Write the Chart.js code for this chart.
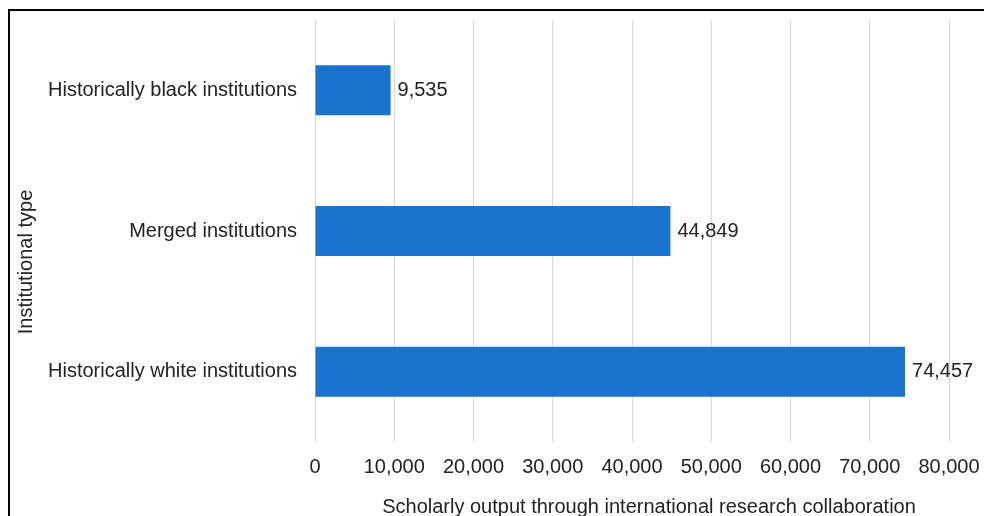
<!DOCTYPE html>
<html>
<head>
<meta charset="utf-8">
<script src="https://cdn.jsdelivr.net/npm/chart.js@4.4.1/dist/chart.umd.min.js"></script>
<style>
  html, body { margin: 0; padding: 0; background: #fff; overflow: hidden; }
  #wrap { position: absolute; left: 0; top: 0; width: 984px; height: 516px; }
  #frame { position: absolute; left: 8px; top: 9px; width: 1100px; height: 700px;
           border: 2px solid #000; pointer-events: none; box-sizing: border-box; }
</style>
</head>
<body>
<div id="wrap"><canvas id="c" width="984" height="516"></canvas></div>
<div id="frame"></div>
<script>
const categories = ['Historically black institutions', 'Merged institutions', 'Historically white institutions'];
const values = [9535, 44849, 74457];
const xTicks = [0, 10000, 20000, 30000, 40000, 50000, 60000, 70000, 80000];
const xTitle = 'Scholarly output through international research collaboration';
const yTitle = 'Institutional type';

const FONT = "'Liberation Sans', Arial, Helvetica, sans-serif";
const fmt = v => v.toLocaleString('en-US');

const valueLabels = {
  id: 'valueLabels',
  afterDatasetsDraw(chart) {
    const ctx = chart.ctx;
    const meta = chart.getDatasetMeta(0);
    ctx.save();
    ctx.font = '20px ' + FONT;
    ctx.fillStyle = '#222';
    ctx.textAlign = 'left';
    ctx.textBaseline = 'middle';
    meta.data.forEach((bar, i) => {
      ctx.fillText(fmt(values[i]), bar.x + 7, bar.y);
    });
    ctx.restore();
  }
};

const axisTitles = {
  id: 'axisTitles',
  afterDraw(chart) {
    const ctx = chart.ctx;
    const area = chart.chartArea;
    ctx.save();
    ctx.font = '20px ' + FONT;
    ctx.fillStyle = '#222';
    ctx.textAlign = 'center';
    ctx.textBaseline = 'middle';
    // x-axis title
    ctx.fillText(xTitle, (area.left + area.right) / 2 + 17, chart.height - 9);
    // y-axis title
    ctx.translate(26, (area.top + chart.height) / 2 - 6);
    ctx.rotate(-Math.PI / 2);
    ctx.fillText(yTitle, 0, 0);
    ctx.restore();
  }
};

new Chart(document.getElementById('c'), {
  type: 'bar',
  data: {
    labels: categories,
    datasets: [{
      data: values,
      backgroundColor: '#1a74cd',
      borderWidth: 0,
      barPercentage: 0.355,
      categoryPercentage: 1.0
    }]
  },
  options: {
    indexAxis: 'y',
    responsive: false,
    animation: false,
    layout: { padding: { top: 20, right: 35, left: 0, bottom: 0 } },
    plugins: { legend: { display: false }, tooltip: { enabled: false } },
    scales: {
      x: {
        min: 0, max: 80000,
        afterBuildTicks(scale) { scale.ticks = xTicks.map(v => ({ value: v })); },
        afterFit(scale) { scale.height = 74; scale.paddingLeft = 0; scale.paddingRight = 0; },
        ticks: { font: { size: 20, family: FONT }, color: '#222', padding: 13,
                 callback: v => fmt(v), maxRotation: 0, autoSkip: false },
        grid: { color: '#d6d6d6', lineWidth: 1, drawTicks: false },
        border: { display: false },
        title: { display: false }
      },
      y: {
        afterFit(scale) { scale.width = 315; scale.paddingTop = 0; scale.paddingBottom = 0; },
        ticks: { font: { size: 20, family: FONT }, color: '#222', padding: 18 },
        grid: { display: false, drawTicks: false },
        border: { display: false },
        title: { display: false }
      }
    }
  },
  plugins: [valueLabels, axisTitles]
});
</script>
</body>
</html>
